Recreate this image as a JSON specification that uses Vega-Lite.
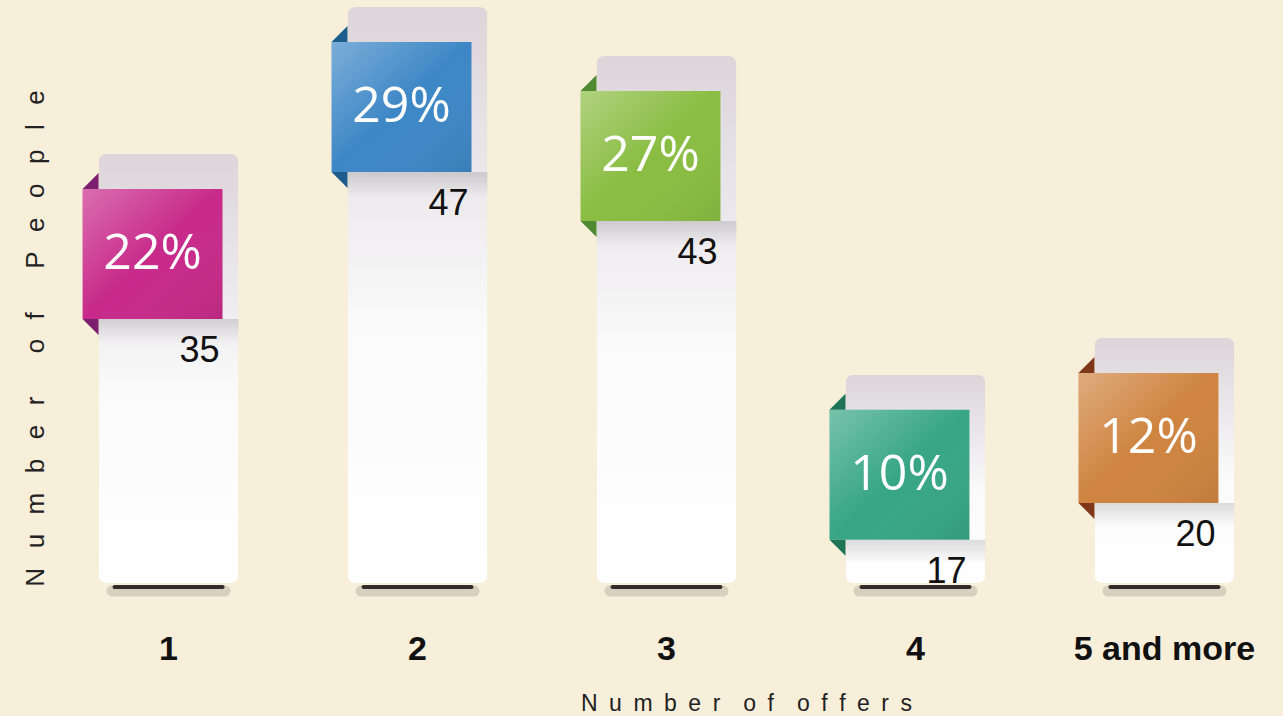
{
  "$schema": "https://vega.github.io/schema/vega-lite/v6.json",
  "width": 1213,
  "height": 576,
  "autosize": {"type": "none"},
  "padding": {"left": 60, "top": 7, "right": 10, "bottom": 133},
  "background": "#f8efdb",
  "config": {"view": {"stroke": null}},
  "data": {
    "values": [
      {"offer": "1", "people": 35, "pct": "22%"},
      {"offer": "2", "people": 47, "pct": "29%"},
      {"offer": "3", "people": 43, "pct": "27%"},
      {"offer": "4", "people": 17, "pct": "10%"},
      {"offer": "5 and more", "people": 20, "pct": "12%"}
    ]
  },
  "encoding": {
    "x": {
      "field": "offer",
      "type": "nominal",
      "sort": null,
      "scale": {"paddingInner": 0.438, "paddingOuter": 0.155},
      "axis": {
        "title": "N\u2002u\u2002m\u2002b\u2002e\u2002r\u2002\u2002o\u2002f\u2002\u2002o\u2002f\u2002f\u2002e\u2002r\u2002s",
        "titleFont": "Liberation Sans",
        "titleFontSize": 23,
        "titleFontWeight": "normal",
        "titleColor": "#222222",
        "titleX": 686,
        "titleY": 127,
        "titleBaseline": "alphabetic",
        "titleAnchor": null,
        "labelAngle": 0,
        "labelFont": "Liberation Sans",
        "labelFontSize": 34,
        "labelFontWeight": "bold",
        "labelColor": "#111111",
        "labelBaseline": "alphabetic",
        "labelPadding": 76,
        "labelLimit": 0,
        "labelOverlap": false,
        "ticks": false,
        "tickSize": 0,
        "domain": false,
        "grid": false
      }
    }
  },
  "layer": [
    {
      "mark": {"type": "tick", "orient": "horizontal", "size": 124, "thickness": 11, "yOffset": 8, "color": "#000000", "opacity": 0.13, "cornerRadius": 5.5},
      "encoding": {"y": {"datum": 0, "type": "quantitative", "scale": {"domain": [0, 47], "nice": false}}}
    },
    {
      "mark": {"type": "tick", "orient": "horizontal", "size": 112, "thickness": 4, "yOffset": 4, "color": "#111111", "opacity": 0.85, "cornerRadius": 2},
      "encoding": {"y": {"datum": 0, "type": "quantitative"}}
    },
    {
      "mark": {
        "type": "bar",
        "cornerRadius": 8,
        "color": {
          "gradient": "linear", "x1": 0, "y1": 0, "x2": 0, "y2": 1,
          "stops": [
            {"offset": 0, "color": "#dcd5da"},
            {"offset": 0.3, "color": "#ebe8eb"},
            {"offset": 0.55, "color": "#fafafa"},
            {"offset": 1, "color": "#ffffff"}
          ]
        }
      },
      "encoding": {
        "y": {
          "field": "people",
          "type": "quantitative",
          "scale": {"domain": [0, 47], "nice": false},
          "axis": {
            "title": "N\u2002\u2005u\u2002\u2005m\u2002\u2005b\u2002\u2005e\u2002\u2005r\u2002\u2002\u2002\u2006o\u2002\u2005f\u2002\u2002\u2002\u2006P\u2002\u2005e\u2002\u2005o\u2002\u2005p\u2002\u2005l\u2002\u2005e",
            "titleFont": "Liberation Sans",
            "titleFontSize": 26,
            "titleFontWeight": "normal",
            "titleColor": "#222222",
            "titleAngle": 270,
            "titleX": -17,
            "titleY": 331,
            "titleAlign": "center",
            "titleBaseline": "alphabetic",
            "labels": false,
            "ticks": false,
            "tickSize": 0,
            "domain": false,
            "grid": false
          }
        }
      }
    },
    {
      "mark": {
        "type": "bar",
        "yOffset": 165,
        "y2Offset": 190,
        "color": {
          "gradient": "linear", "x1": 0, "y1": 0, "x2": 0, "y2": 1,
          "stops": [
            {"offset": 0, "color": "rgba(0,0,0,0.13)"},
            {"offset": 1, "color": "rgba(0,0,0,0)"}
          ]
        }
      },
      "encoding": {
        "y": {"field": "people", "type": "quantitative"},
        "y2": {"field": "people"}
      }
    },
    {
      "mark": {"type": "bar", "yOffset": 35, "y2Offset": 165, "xOffset": -16},
      "encoding": {
        "y": {"field": "people", "type": "quantitative"},
        "y2": {"field": "people"},
        "color": {
          "field": "offer",
          "type": "nominal",
          "scale": {"domain": ["1", "2", "3", "4", "5 and more"], "range": ["#c82a8a", "#3d87c6", "#8abd42", "#37a684", "#cf8440"]},
          "legend": null
        }
      }
    },
    {
      "mark": {
        "type": "bar", "yOffset": 35, "y2Offset": 165, "xOffset": -16,
        "color": {
          "gradient": "linear", "x1": 0, "y1": 0, "x2": 1, "y2": 1,
          "stops": [
            {"offset": 0, "color": "rgba(255,255,255,0.32)"},
            {"offset": 0.5, "color": "rgba(255,255,255,0)"},
            {"offset": 1, "color": "rgba(0,0,0,0.07)"}
          ]
        }
      },
      "encoding": {
        "y": {"field": "people", "type": "quantitative"},
        "y2": {"field": "people"}
      }
    },
    {
      "mark": {"type": "point", "shape": "M-1,1L1,-1L1,1Z", "size": 256, "filled": true, "opacity": 1, "strokeWidth": 0, "xOffset": -78, "yOffset": 27},
      "encoding": {
        "y": {"field": "people", "type": "quantitative"},
        "fill": {
          "field": "offer",
          "type": "nominal",
          "scale": {"domain": ["1", "2", "3", "4", "5 and more"], "range": ["#7c1f6e", "#1d5d8c", "#4f8a32", "#1d7556", "#7e3818"]},
          "legend": null
        }
      }
    },
    {
      "mark": {"type": "point", "shape": "M-1,-1L1,-1L1,1Z", "size": 256, "filled": true, "opacity": 1, "strokeWidth": 0, "xOffset": -78, "yOffset": 173},
      "encoding": {
        "y": {"field": "people", "type": "quantitative"},
        "fill": {"field": "offer", "type": "nominal", "legend": null}
      }
    },
    {
      "mark": {"type": "text", "font": "Open Sans", "fontSize": 50, "fontWeight": 400, "color": "#ffffff", "align": "center", "baseline": "middle", "xOffset": -16, "yOffset": 100},
      "encoding": {
        "y": {"field": "people", "type": "quantitative"},
        "text": {"field": "pct"}
      }
    },
    {
      "mark": {"type": "text", "font": "Liberation Sans", "fontSize": 36, "color": "#111111", "align": "right", "baseline": "middle", "xOffset": 51, "yOffset": 197},
      "encoding": {
        "y": {"field": "people", "type": "quantitative"},
        "text": {"field": "people"}
      }
    }
  ]
}
